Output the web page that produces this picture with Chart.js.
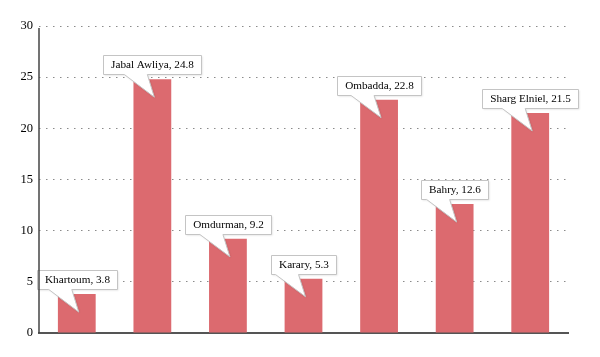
<!DOCTYPE html>
<html>
<head>
<meta charset="utf-8">
<script src="https://cdn.jsdelivr.net/npm/chart.js@4"></script>
<style>
  html, body { margin: 0; padding: 0; background: #fff; }
  #wrap { width: 600px; height: 357px; }
</style>
</head>
<body>
<div id="wrap"><canvas id="c" width="600" height="357"></canvas></div>
<script>
const categories = ["Khartoum", "Jabal Awliya", "Omdurman", "Karary", "Ombadda", "Bahry", "Sharg Elniel"];
const values = [3.8, 24.8, 9.2, 5.3, 22.8, 12.6, 21.5];
const yTicks = [0, 5, 10, 15, 20, 25, 30];

const FONT = "'Liberation Serif'";

const calloutPlugin = {
  id: 'callouts',
  afterDatasetsDraw(chart) {
    const ctx = chart.ctx;
    const meta = chart.getDatasetMeta(0);
    ctx.save();
    ctx.font = "11.2px " + FONT;
    meta.data.forEach((bar, i) => {
      const text = categories[i] + ", " + values[i];
      const tw = ctx.measureText(text).width;
      const w = Math.round(tw + 15);
      const h = 19;
      const cx = bar.x;
      const top = bar.y;
      const bx = Math.round(cx - w / 2) + 0.5;
      const by = Math.round(top - 5 - h) + 0.5;
      const bBottom = by + h;
      const p1 = cx - 28, p2 = cx - 5;
      const tipX = cx + 2, tipY = top + 18;
      ctx.beginPath();
      ctx.moveTo(bx, by);
      ctx.lineTo(bx + w, by);
      ctx.lineTo(bx + w, bBottom);
      ctx.lineTo(p2, bBottom);
      ctx.lineTo(tipX, tipY);
      ctx.lineTo(p1, bBottom);
      ctx.lineTo(bx, bBottom);
      ctx.closePath();
      ctx.shadowColor = 'rgba(0,0,0,0.12)';
      ctx.shadowBlur = 2;
      ctx.shadowOffsetX = 1;
      ctx.shadowOffsetY = 1;
      ctx.fillStyle = '#ffffff';
      ctx.fill();
      ctx.shadowColor = 'transparent';
      ctx.strokeStyle = '#c4c4c4';
      ctx.lineWidth = 1;
      ctx.stroke();
      ctx.fillStyle = '#000';
      ctx.textAlign = 'center';
      ctx.textBaseline = 'middle';
      ctx.fillText(text, bx + w / 2, by + h / 2 + 0.5);
    });
    ctx.restore();
  }
};

const axisPlugin = {
  id: 'yaxisline',
  afterDraw(chart) {
    const a = chart.chartArea;
    const ctx = chart.ctx;
    ctx.save();
    ctx.strokeStyle = '#444';
    ctx.lineWidth = 1.5;
    ctx.beginPath();
    ctx.moveTo(a.left, a.top + 2);
    ctx.lineTo(a.left, a.bottom);
    ctx.stroke();
    ctx.restore();
  }
};

new Chart(document.getElementById('c'), {
  type: 'bar',
  data: {
    labels: categories,
    datasets: [{
      data: values,
      backgroundColor: '#dc6a6f',
      borderWidth: 0,
      categoryPercentage: 1.0,
      barPercentage: 0.5
    }]
  },
  options: {
    responsive: false,
    animation: false,
    devicePixelRatio: 1,
    layout: { padding: { left: 0, top: 26, right: 32, bottom: 0 } },
    plugins: {
      legend: { display: false },
      tooltip: { enabled: false }
    },
    scales: {
      x: {
        offset: true,
        grid: { display: false, drawTicks: false },
        border: { display: true, color: '#555', width: 2 },
        ticks: { display: false },
        afterFit(s) { s.height = 24; }
      },
      y: {
        min: 0,
        max: 30,
        afterBuildTicks(s) { s.ticks = yTicks.map(v => ({ value: v })); },
        grid: {
          color: (c) => c.tick && c.tick.value === 0 ? 'rgba(0,0,0,0)' : '#8a8a8a',
          lineWidth: 1,
          drawTicks: false
        },
        border: { display: false, dash: [1.5, 5.5] },
        ticks: {
          color: '#000',
          font: { family: FONT, size: 12.5 },
          padding: 6
        },
        afterFit(s) { s.width = 39; }
      }
    }
  },
  plugins: [calloutPlugin, axisPlugin]
});
</script>
</body>
</html>
